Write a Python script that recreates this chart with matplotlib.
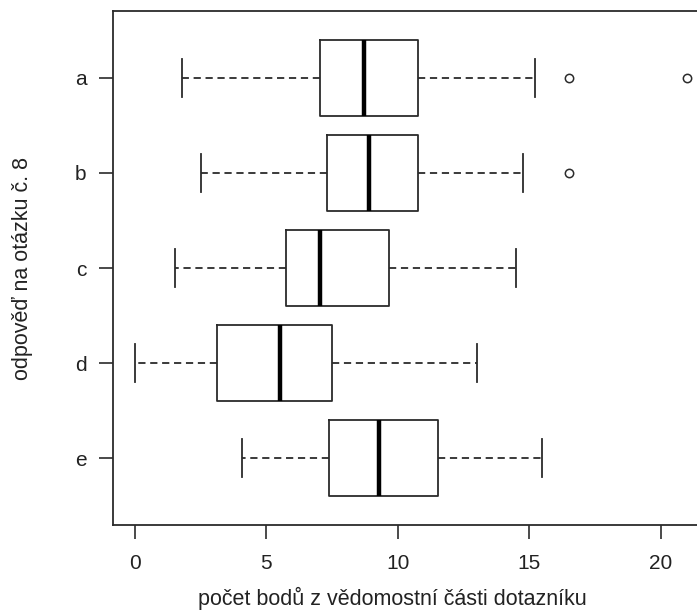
import matplotlib.pyplot as plt

plt.rcParams['font.family'] = ['Liberation Sans', 'DejaVu Sans']

# five-number summaries per answer option
labels = ['a', 'b', 'c', 'd', 'e']
whislo = [1.77, 2.5, 1.53, 0.0, 4.05]
q1 = [7.02, 7.29, 5.76, 3.13, 7.39]
med = [8.73, 8.91, 7.03, 5.52, 9.28]
q3 = [10.76, 10.75, 9.65, 7.49, 11.54]
whishi = [15.22, 14.78, 14.5, 13.0, 15.5]
fliers = [[16.5, 21.0], [16.5], [], [], []]

stats = []
for i in range(len(labels)):
    stats.append(dict(label=labels[i], whislo=whislo[i], q1=q1[i], med=med[i],
                      q3=q3[i], whishi=whishi[i], fliers=fliers[i]))

fig = plt.figure(figsize=(6.97, 6.10), dpi=100)
ax = fig.add_axes([113/697, 1 - 525/610, 596/697, 514/610])

col = '#2b2b2b'
txt = '#222222'
ax.bxp(stats, positions=range(1, 6), vert=False, widths=0.8,
       showfliers=True,
       boxprops=dict(color=col, lw=1.3),
       medianprops=dict(color='black', lw=3.2, solid_capstyle='butt'),
       whiskerprops=dict(color=col, lw=1.3, linestyle=(0, (4, 2.6))),
       capprops=dict(color=col, lw=1.3),
       capwidths=0.4,
       flierprops=dict(marker='o', markersize=6, markerfacecolor='none',
                       markeredgecolor=col, markeredgewidth=1.1))

ax.set_xlim(-0.84, 21.84)
ax.set_ylim(5.7, 0.3)
ax.set_xticks([0, 5, 10, 15, 20])
ax.set_yticks(range(1, 6))
ax.set_yticklabels(labels)

for s in ax.spines.values():
    s.set_color(col)
    s.set_linewidth(1.3)
ax.tick_params(axis='both', direction='out', length=10, width=1.2, color=col,
               labelsize=15, labelcolor=txt)
ax.tick_params(axis='x', pad=11)
ax.tick_params(axis='y', pad=9)

ax.set_xlabel('počet bodů z vědomostní části dotazníku', fontsize=15.5,
              color=txt)
ax.xaxis.set_label_coords(0.468, -0.12)
ax.set_ylabel('odpověď na otázku č. 8', fontsize=15.5, color=txt,
              labelpad=30)

fig.savefig('out.png', dpi=100)
